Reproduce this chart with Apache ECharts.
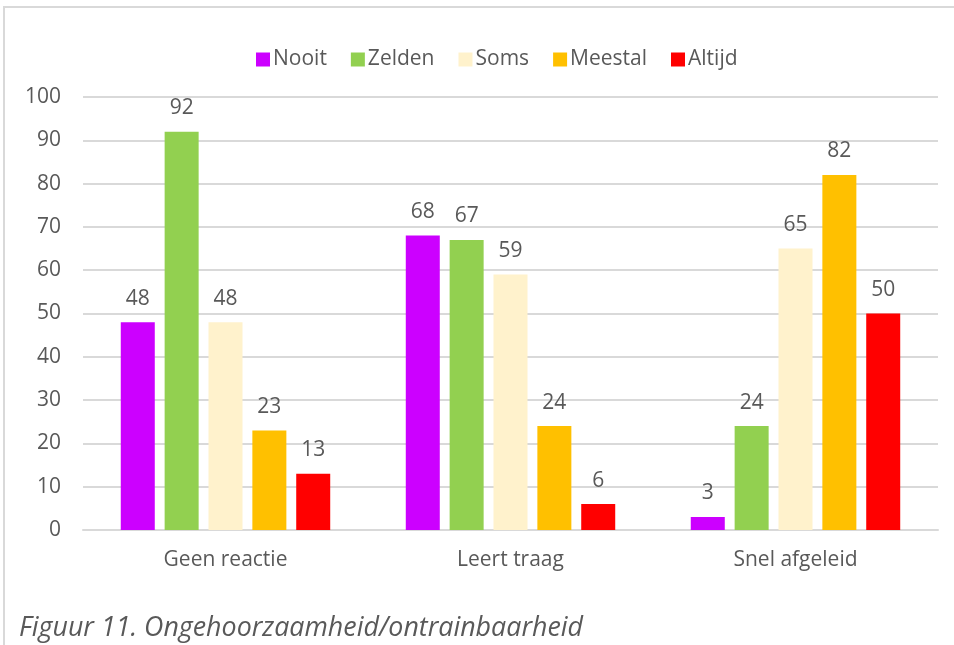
<!DOCTYPE html>
<html>
<head>
<meta charset="utf-8">
<script src="https://cdn.jsdelivr.net/npm/echarts@6/dist/echarts.min.js"></script>
<style>
  html, body { margin: 0; padding: 0; background: #fff; }
  #chart { width: 954px; height: 645px; }
</style>
</head>
<body>
<div id="chart"></div>
<script>
const categories = ['Geen reactie', 'Leert traag', 'Snel afgeleid'];
const seriesNames = ['Nooit', 'Zelden', 'Soms', 'Meestal', 'Altijd'];
const nooit = [48, 68, 3];
const zelden = [92, 67, 24];
const soms = [48, 59, 65];
const meestal = [23, 24, 82];
const altijd = [13, 6, 50];
const yTicks = { min: 0, max: 100, interval: 10 };
const caption = 'Figuur 11. Ongehoorzaamheid/ontrainbaarheid';

const COLORS = ['#CC00FF', '#92D050', '#FFF2CC', '#FFC000', '#FF0000'];
const FONT = '"Open Sans"';
const TEXT = '#595959';

const values = [nooit, zelden, soms, meestal, altijd];

const chart = echarts.init(document.getElementById('chart'), null, { renderer: 'canvas' });

const series = seriesNames.map((name, i) => ({
  name,
  type: 'bar',
  data: values[i],
  barWidth: 34,
  barGap: '29%',
  itemStyle: { color: COLORS[i] },
  label: {
    show: true,
    position: 'top',
    distance: 13,
    color: TEXT,
    fontFamily: FONT,
    fontSize: 21,
  },
  animation: false,
}));

chart.setOption({
  animation: false,
  textStyle: { fontFamily: FONT },
  graphic: [
    {
      type: 'rect',
      shape: { x: 4, y: 7, width: 1000, height: 700 },
      style: { fill: 'none', stroke: '#d9d9d9', lineWidth: 2 },
      silent: true,
    },
    {
      type: 'text',
      left: 19,
      top: 615,
      style: {
        text: caption,
        fill: TEXT,
        font: 'italic 26.8px ' + FONT,
      },
    },
  ],
  legend: {
    top: 44,
    left: 251,
    itemWidth: 14,
    itemHeight: 14,
    itemGap: 24,
    icon: 'rect',
    textStyle: { color: TEXT, fontSize: 21, fontFamily: FONT, padding: [0, 0, 0, -2] },
    data: seriesNames,
  },
  grid: { left: 83, right: 16, top: 97, bottom: 115, containLabel: false },
  xAxis: {
    type: 'category',
    data: categories,
    axisLine: { lineStyle: { color: '#d9d9d9', width: 2 } },
    axisTick: { show: false },
    axisLabel: { color: TEXT, fontSize: 21, fontFamily: FONT, margin: 20 },
  },
  yAxis: {
    type: 'value',
    min: yTicks.min,
    max: yTicks.max,
    interval: yTicks.interval,
    axisLine: { show: false },
    axisTick: { show: false },
    splitLine: { lineStyle: { color: '#d9d9d9', width: 2 } },
    axisLabel: { color: TEXT, fontSize: 21, fontFamily: FONT, margin: 22 },
  },
  series,
});
</script>
</body>
</html>
